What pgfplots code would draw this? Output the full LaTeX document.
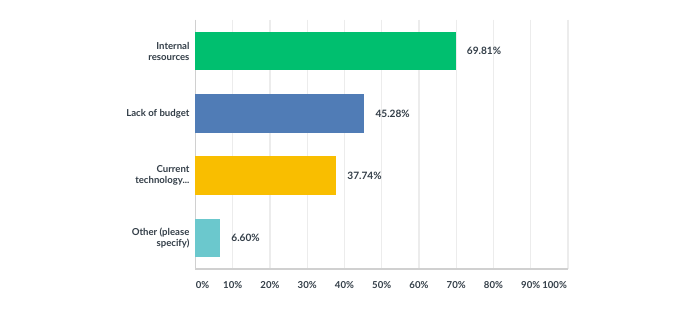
\documentclass[border=0pt]{standalone}
\usepackage{pgfplots}
\pgfplotsset{compat=1.18}
\usepackage{fontspec}
\setmainfont{Lato}
\definecolor{smgreen}{HTML}{00BF6F}
\definecolor{smblue}{HTML}{507CB6}
\definecolor{smyellow}{HTML}{F9BE00}
\definecolor{smteal}{HTML}{6BC8CD}
\definecolor{txt}{HTML}{333E48}
\definecolor{gridc}{HTML}{ECECEC}
\definecolor{axc}{HTML}{D0D0D0}
\newcommand{\dotsthree}{.\kern0pt.\kern0pt.}
\begin{document}
\begin{tikzpicture}[x=1pt,y=1pt]
\useasboundingbox (0,0) rectangle (525,232.5);
\fill[white] (0,0) rectangle (525,232.5);
\begin{axis}[
  at={(146.6pt,30.75pt)}, anchor=south west,
  scale only axis, width=279.4pt, height=186.75pt,
  xmin=0, xmax=100, ymin=-0.5, ymax=3.5, y dir=reverse,
  xbar, bar width=28.9pt,
  /pgf/bar shift=0pt,
  /pgf/number format/assume math mode=true,
  xtick={0,10,20,30,40,50,60,70,80,90,100}, xticklabels={},
  xmajorgrids, major grid style={gridc, line width=0.8pt},
  extra x ticks={1.9,10,20,30,40,50,60,70,80,90,96.4},
  extra x tick labels={0\%,10\%,20\%,30\%,40\%,50\%,60\%,70\%,80\%,90\%,100\%},
  extra x tick style={grid=none, major tick length=0pt,
     xticklabel style={font=\fontsize{7.2}{8}\selectfont\bfseries, text=txt, yshift=-6pt}},
  ytick={0,1,2,3},
  yticklabels={{Internal\\resources},{Lack of budget},{Current\\technology\dotsthree},{Other (please\\specify)}},
  yticklabel style={font=\fontsize{7.2}{8.4}\selectfont\bfseries, text=txt, align=right, xshift=-1pt},
  major tick length=0pt,
  axis x line*=bottom, axis y line*=left,
  axis line style={axc, line width=0.8pt},
  x axis line style={-}, y axis line style={-},
  nodes near coords={\pgfmathprintnumber[fixed,fixed zerofill,precision=2]{\pgfplotspointmeta}\%},
  nodes near coords style={font=\fontsize{7.6}{9}\selectfont\bfseries, text=txt, anchor=west, xshift=5pt},
  point meta=explicit,
  clip=false,
]
\addplot[fill=smgreen, draw=none] coordinates {(69.81,0) [69.81]};
\addplot[fill=smblue, draw=none] coordinates {(45.28,1) [45.28]};
\addplot[fill=smyellow, draw=none] coordinates {(37.74,2) [37.74]};
\addplot[fill=smteal, draw=none] coordinates {(6.60,3) [6.60]};
\end{axis}
\end{tikzpicture}
\end{document}
